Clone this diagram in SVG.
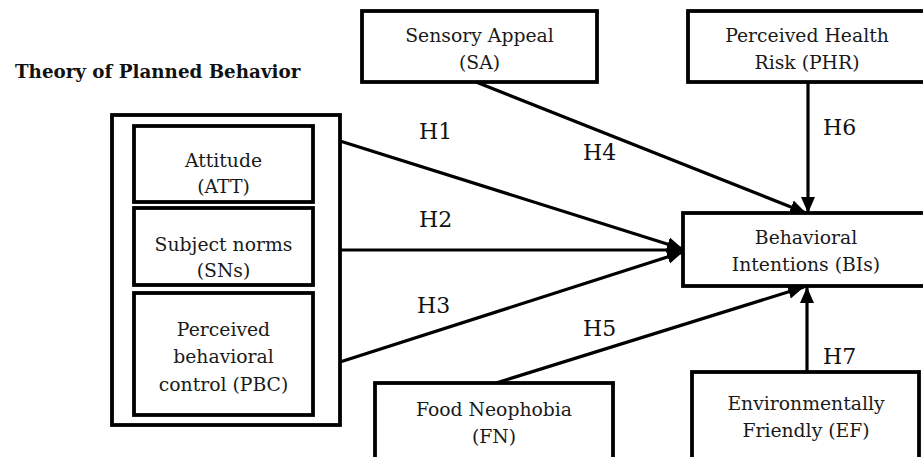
<svg xmlns="http://www.w3.org/2000/svg" width="923" height="457" viewBox="0 0 923 457">
<style>
.box{fill:#fff;stroke:#000;stroke-width:3.8}
.t{font-family:"DejaVu Serif","Liberation Serif",serif;font-size:18.8px;fill:#1a1a1a;text-anchor:middle}
.h{font-family:"DejaVu Serif","Liberation Serif",serif;font-size:22px;fill:#111}
.title{font-family:"DejaVu Serif","Liberation Serif",serif;font-size:18.3px;font-weight:bold;fill:#111}
.c{stroke:#000;stroke-width:3.2;fill:none;marker-end:url(#ah)}
</style>
<defs>
<marker id="ah" markerUnits="userSpaceOnUse" markerWidth="18" markerHeight="16" refX="16" refY="8" orient="auto">
<path d="M0,1 L16,8 L0,15 Z" fill="#000"/>
</marker>
</defs>
<rect width="923" height="457" fill="#fff"/>
<text class="title" x="15" y="78">Theory of Planned Behavior</text>
<g id="tpb">
<rect class="box" x="112" y="115" width="228" height="310"/>
</g>
<g id="att">
<rect class="box" x="134" y="126" width="179" height="76"/>
<text class="t" x="223.5" y="167">Attitude</text>
<text class="t" x="223.5" y="193">(ATT)</text>
</g>
<g id="sn">
<rect class="box" x="134" y="208" width="179" height="77"/>
<text class="t" x="223.5" y="251">Subject norms</text>
<text class="t" x="223.5" y="277">(SNs)</text>
</g>
<g id="pbc">
<rect class="box" x="134" y="293" width="179" height="122"/>
<text class="t" x="223.5" y="336">Perceived</text>
<text class="t" x="223.5" y="363">behavioral</text>
<text class="t" x="223.5" y="391">control (PBC)</text>
</g>
<g id="sa">
<rect class="box" x="362" y="11" width="235" height="71"/>
<text class="t" x="479.5" y="42">Sensory Appeal</text>
<text class="t" x="479.5" y="69">(SA)</text>
</g>
<g id="phr">
<rect class="box" x="688" y="11" width="250" height="71"/>
<text class="t" x="807" y="42">Perceived Health</text>
<text class="t" x="807" y="69">Risk (PHR)</text>
</g>
<g id="bi">
<rect class="box" x="683" y="213" width="255" height="73"/>
<text class="t" x="806" y="244">Behavioral</text>
<text class="t" x="806" y="271">Intentions (BIs)</text>
</g>
<g id="fn">
<rect class="box" x="375" y="383" width="238" height="90"/>
<text class="t" x="494" y="416">Food Neophobia</text>
<text class="t" x="494" y="443">(FN)</text>
</g>
<g id="ef">
<rect class="box" x="692" y="372" width="227" height="100"/>
<text class="t" x="806" y="410">Environmentally</text>
<text class="t" x="806" y="437">Friendly (EF)</text>
</g>
<g id="connectors">
<line class="c" x1="340" y1="141" x2="683" y2="249"/>
<line class="c" x1="340" y1="250" x2="683" y2="250"/>
<line class="c" x1="340" y1="362" x2="683" y2="252"/>
<line class="c" x1="476" y1="82" x2="806" y2="213"/>
<line class="c" x1="808" y1="82" x2="808" y2="213"/>
<line class="c" x1="496" y1="383" x2="804" y2="287"/>
<line class="c" x1="807" y1="372" x2="807" y2="287"/>
</g>
<g id="labels">
<text class="h" x="419" y="139">H1</text>
<text class="h" x="419" y="227">H2</text>
<text class="h" x="417" y="313">H3</text>
<text class="h" x="583" y="160">H4</text>
<text class="h" x="583" y="336">H5</text>
<text class="h" x="823" y="135">H6</text>
<text class="h" x="823" y="364">H7</text>
</g>
</svg>
